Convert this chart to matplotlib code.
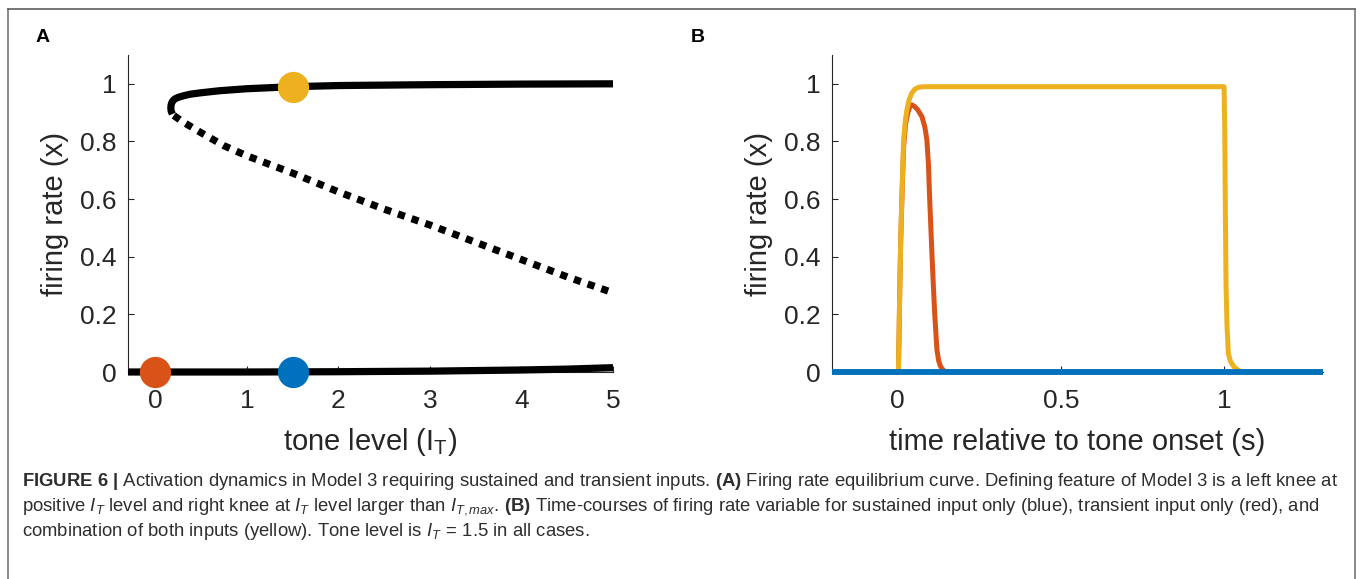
import matplotlib
matplotlib.use("Agg")
import matplotlib.pyplot as plt
from matplotlib.lines import Line2D

plt.rcParams["font.family"] = ["Liberation Sans", "DejaVu Sans"]
plt.rcParams["mathtext.fontset"] = "custom"
plt.rcParams["mathtext.rm"] = "Liberation Sans"
plt.rcParams["mathtext.it"] = "Liberation Sans:italic"
plt.rcParams["mathtext.bf"] = "Liberation Sans:bold"

# ---------------- Panel A: equilibrium curve ----------------
upper_tone = [0.185, 0.172, 0.168, 0.170, 0.178, 0.19, 0.21, 0.24, 0.30, 0.38, 0.50,
              0.70, 1.0, 1.5, 2.0, 3.0, 4.0, 5.0]
upper_rate = [0.895, 0.905, 0.915, 0.925, 0.934, 0.941, 0.947, 0.952, 0.958, 0.964,
              0.969, 0.976, 0.983, 0.990, 0.994, 0.997, 0.999, 1.0]

middle_tone = [0.20, 0.30, 0.50, 0.75, 1.0, 1.5, 2.0, 2.5, 3.0, 3.5, 4.0, 4.5, 5.0]
middle_rate = [0.890, 0.868, 0.830, 0.785, 0.750, 0.690, 0.625, 0.565, 0.510, 0.450,
               0.390, 0.330, 0.275]

lower_tone = [-0.3, 1.0, 2.0, 3.0, 3.5, 4.0, 4.5, 5.0]
lower_rate = [0.0, 0.0, 0.001, 0.003, 0.005, 0.007, 0.010, 0.015]

marker_tone = [0.0, 1.5, 1.5]
marker_rate = [0.0, 0.0, 0.99]
marker_colors = ["#D95319", "#0072BD", "#EDB120"]

# ---------------- Panel B: time courses ----------------
sustained_t = [-0.2, 1.3]
sustained_x = [0.0, 0.0]

combined_t = [-0.2, 0.003, 0.005, 0.007, 0.010, 0.014, 0.019, 0.024, 0.029, 0.036,
              0.044, 0.054, 0.065, 0.08, 0.5, 0.999, 1.001, 1.003, 1.005, 1.008,
              1.012, 1.018, 1.025, 1.032, 1.040, 1.050, 1.06, 1.3]
combined_x = [0.0, 0.0, 0.12, 0.27, 0.45, 0.62, 0.805, 0.87, 0.91, 0.945,
              0.968, 0.982, 0.988, 0.99, 0.99, 0.99, 0.85, 0.55, 0.30, 0.16,
              0.065, 0.038, 0.025, 0.015, 0.008, 0.002, 0.0, 0.0]

transient_t = [-0.2, 0.003, 0.005, 0.007, 0.010, 0.014, 0.019, 0.025, 0.032, 0.038,
               0.044, 0.052, 0.062, 0.075, 0.084, 0.090, 0.095, 0.098, 0.102,
               0.106, 0.110, 0.114, 0.118, 0.121, 0.126, 0.131, 0.136, 0.143,
               0.150, 1.3]
transient_x = [0.0, 0.0, 0.12, 0.27, 0.45, 0.61, 0.78, 0.86, 0.90, 0.92,
               0.927, 0.922, 0.910, 0.886, 0.85, 0.806, 0.72, 0.62, 0.51,
               0.40, 0.30, 0.204, 0.13, 0.076, 0.040, 0.022, 0.012, 0.004,
               0.0, 0.0]

rate_ticks = [0, 0.2, 0.4, 0.6, 0.8, 1]
rate_ticklabels = ["0", "0.2", "0.4", "0.6", "0.8", "1"]
tone_ticks = [0, 1, 2, 3, 4, 5]
tone_ticklabels = ["0", "1", "2", "3", "4", "5"]
time_ticks = [0, 0.5, 1]
time_ticklabels = ["0", "0.5", "1"]

W, H = 1360, 579
fig = plt.figure(figsize=(W / 100, H / 100), dpi=100)

axis_color = "#262626"
tick_fs = 19
label_fs = 21


def px_box(left, top, right, bottom):
    return [left / W, 1 - bottom / H, (right - left) / W, (bottom - top) / H]


def style_axes(ax):
    for side in ("top", "right"):
        ax.spines[side].set_visible(False)
    for side in ("left", "bottom"):
        ax.spines[side].set_color(axis_color)
        ax.spines[side].set_linewidth(0.8)
    ax.tick_params(direction="in", length=4, width=0.8, colors=axis_color,
                   labelsize=tick_fs)
    ax.tick_params(axis="x", pad=12)
    ax.tick_params(axis="y", pad=8)
    ax.set_yticks(rate_ticks)
    ax.set_yticklabels(rate_ticklabels)
    ax.set_ylim(0, 1.1)


# Panel A
axA = fig.add_axes(px_box(128, 55, 613, 372))
style_axes(axA)
axA.plot(lower_tone, lower_rate, color="black", lw=5.2, solid_capstyle="butt",
         clip_on=False, zorder=3)
axA.plot(upper_tone, upper_rate, color="black", lw=5.2, solid_capstyle="butt",
         solid_joinstyle="round", clip_on=False, zorder=3)
axA.plot(middle_tone, middle_rate, color="black", lw=5.2, linestyle=(0, (1, 1)),
         dash_capstyle="butt", clip_on=False, zorder=3)
for t, r, c in zip(marker_tone, marker_rate, marker_colors):
    axA.plot([t], [r], "o", color=c, markersize=22.5, markeredgewidth=0,
             clip_on=False, zorder=4)
axA.set_xlim(-0.3, 5)
axA.set_xticks(tone_ticks)
axA.set_xticklabels(tone_ticklabels)
axA.set_xlabel(r"tone level (I$_{\mathregular{T}}$)", fontsize=label_fs, color=axis_color)
axA.set_ylabel("firing rate (x)", fontsize=label_fs, color=axis_color)
axA.yaxis.set_label_coords((69 - 128) / 485, 0.5)
axA.xaxis.set_label_coords(0.5, (372 - 426) / 317)

# Panel B
axB = fig.add_axes(px_box(832, 55, 1322.5, 372))
style_axes(axB)
axB.plot(transient_t, transient_x, color="#D95319", lw=3.6, solid_capstyle="butt",
         clip_on=False, zorder=3)
axB.plot(combined_t, combined_x, color="#EDB120", lw=3.6, solid_capstyle="butt",
         clip_on=False, zorder=3)
axB.plot(sustained_t, sustained_x, color="#0072BD", lw=4.2, solid_capstyle="butt",
         clip_on=False, zorder=3)
axB.set_xlim(-0.2, 1.3)
axB.set_xticks(time_ticks)
axB.set_xticklabels(time_ticklabels)
axB.set_xlabel("time relative to tone onset (s)", fontsize=label_fs, color=axis_color)
axB.set_ylabel("firing rate (x)", fontsize=label_fs, color=axis_color)
axB.yaxis.set_label_coords((773 - 832) / 490, 0.5)
axB.xaxis.set_label_coords(0.5, (372 - 428) / 317)

# Panel letters
fig.text(42.5 / W, 1 - 37.5 / H, "A", fontsize=14, fontweight="bold",
         ha="center", va="center")
fig.text(698 / W, 1 - 37 / H, "B", fontsize=14, fontweight="bold",
         ha="center", va="center")

# Frame around figure and caption
frame_color = "#6a6a6a"
fig.add_artist(Line2D([7.5 / W, 7.5 / W], [0, 1 - 8.5 / H], color=frame_color,
                      lw=1.1, transform=fig.transFigure))
fig.add_artist(Line2D([7.5 / W, 1355 / W], [1 - 8.5 / H, 1 - 8.5 / H],
                      color="#505050", lw=1.1, transform=fig.transFigure))
fig.add_artist(Line2D([1355 / W, 1355 / W], [0, 1 - 8.5 / H], color=frame_color,
                      lw=1.1, transform=fig.transFigure))

# Caption
caption_lines = [
    r"$\mathbf{FIGURE\ 6\ |}$ Activation dynamics in Model 3 requiring sustained and "
    r"transient inputs. $\mathbf{(A)}$ Firing rate equilibrium curve. Defining feature "
    r"of Model 3 is a left knee at",
    r"positive $I_T$ level and right knee at $I_T$ level larger than $I_{T,max}$. "
    r"$\mathbf{(B)}$ Time-courses of firing rate variable for sustained input only "
    r"(blue), transient input only (red), and",
    r"combination of both inputs (yellow). Tone level is $I_T\,=\,1.5$ in all cases.",
]
caption_y = [481, 507, 532]
for line, y in zip(caption_lines, caption_y):
    fig.text(22 / W, 1 - y / H, line, fontsize=13.3, color="#2e2e2e",
             ha="left", va="center")

fig.savefig("out.png", dpi=100)
